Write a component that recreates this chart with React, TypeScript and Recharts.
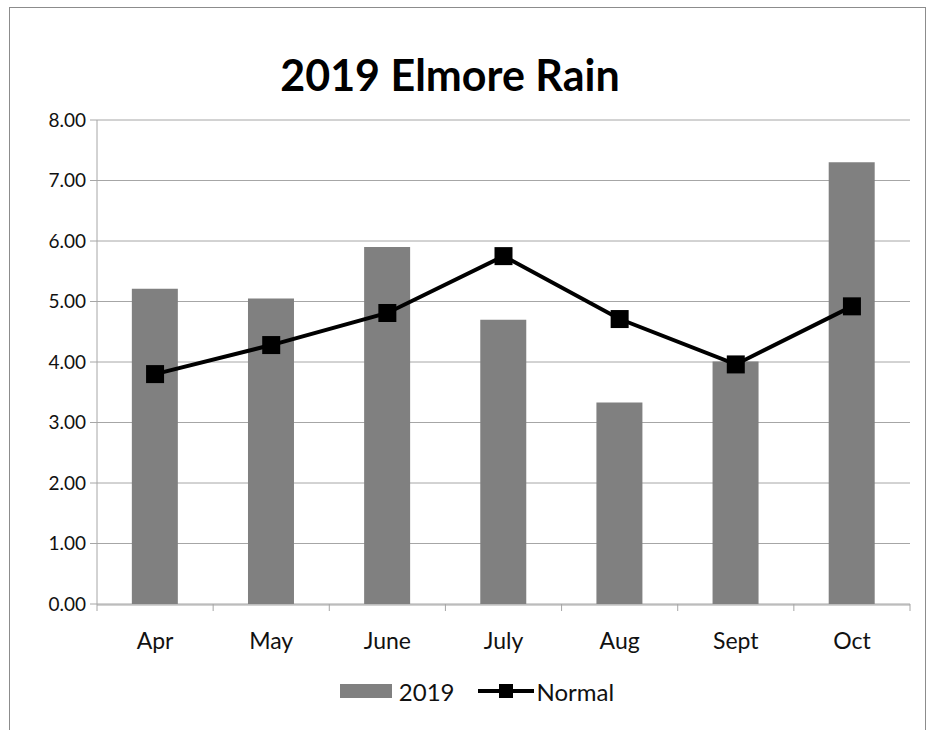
import React from 'react';
import { ComposedChart, Bar, Line, XAxis, YAxis, CartesianGrid, Legend } from 'recharts';

const months = ['Apr', 'May', 'June', 'July', 'Aug', 'Sept', 'Oct'];
const rain2019 = [5.21, 5.05, 5.9, 4.7, 3.33, 4.01, 7.3];
const normal = [3.8, 4.28, 4.81, 5.75, 4.71, 3.96, 4.92];
const yTicks = [0, 1, 2, 3, 4, 5, 6, 7, 8];
const boundaryTicks = [0, 1, 2, 3, 4, 5, 6, 7];
const title = '2019 Elmore Rain';
const seriesNames = ['2019', 'Normal'];

const data = months.map((m, i) => ({ month: m, y2019: rain2019[i], normal: normal[i], pos: i + 0.5 }));

const FONT = 'Lato, "Open Sans", sans-serif';

const SquareDot = (props: any) => {
  const { cx, cy } = props;
  if (cx == null || cy == null) return null;
  return <rect x={cx - 9} y={cy - 9} width={18} height={18} fill="#000" />;
};

const EmptyTick = () => <g />;

const LegendContent = () => (
  <div
    style={{
      display: 'flex',
      justifyContent: 'center',
      alignItems: 'center',
      height: 30,
      fontFamily: FONT,
      fontSize: 24,
      color: '#111',
      paddingLeft: 24,
    }}
  >
    <div style={{ display: 'flex', alignItems: 'center', marginRight: 23 }}>
      <div style={{ width: 52, height: 14, background: '#808080', marginRight: 7 }} />
      <span>{seriesNames[0]}</span>
    </div>
    <div style={{ display: 'flex', alignItems: 'center' }}>
      <svg width={56} height={20} style={{ marginRight: 3 }}>
        <line x1={0} y1={10} x2={56} y2={10} stroke="#000" strokeWidth={4} />
        <rect x={21} y={3} width={14} height={14} fill="#000" />
      </svg>
      <span>{seriesNames[1]}</span>
    </div>
  </div>
);

export default function App() {
  return (
    <div
      style={{
        position: 'absolute',
        left: 0,
        top: 0,
        width: 927,
        height: 730,
        overflow: 'hidden',
        background: '#fff',
      }}
    >
      <div
        style={{
          position: 'absolute',
          left: 9,
          top: 7,
          width: 915,
          height: 760,
          border: '1px solid #8c8c8c',
        }}
      />
      <div
        style={{
          position: 'absolute',
          left: 0,
          width: 900,
          top: 50,
          textAlign: 'center',
          fontFamily: FONT,
          fontWeight: 700,
          fontSize: 43,
          lineHeight: '50px',
          color: '#000',
        }}
      >
        {title}
      </div>
      <div style={{ position: 'absolute', left: 0, top: 0 }}>
        <ComposedChart
          width={927}
          height={730}
          data={data}
          margin={{ top: 120, right: 17, left: 20, bottom: 65 }}
          barCategoryGap="30%"
        >
          <CartesianGrid vertical={false} stroke="#a6a6a6" strokeWidth={1} xAxisId="b_cat" />
          <XAxis
            xAxisId="a_grid"
            dataKey="pos"
            type="number"
            domain={[0, 7]}
            ticks={boundaryTicks}
            height={1}
            axisLine={false}
            tickLine={{ stroke: '#a6a6a6' }}
            tickSize={7}
            tick={EmptyTick}
            interval={0}
            allowDataOverflow
          />
          <XAxis
            xAxisId="b_cat"
            dataKey="month"
            height={30}
            axisLine={{ stroke: '#a6a6a6' }}
            tickLine={false}
            tickSize={0}
            tickMargin={28}
            tick={{ fill: '#111', fontSize: 23, fontFamily: FONT }}
          />
          <YAxis
            width={77}
            domain={[0, 8]}
            ticks={yTicks}
            tickFormatter={(v: number) => v.toFixed(2)}
            axisLine={{ stroke: '#a6a6a6' }}
            tickLine={{ stroke: '#a6a6a6' }}
            tickSize={7}
            tickMargin={4}
            tick={{ fill: '#111', fontSize: 19, fontFamily: FONT }}
          />
          <Bar xAxisId="b_cat" dataKey="y2019" name={seriesNames[0]} fill="#808080" isAnimationActive={false} />
          <Line
            xAxisId="b_cat"
            dataKey="normal"
            name={seriesNames[1]}
            stroke="#000"
            strokeWidth={4}
            dot={<SquareDot />}
            activeDot={false}
            isAnimationActive={false}
          />
          <Legend content={<LegendContent />} wrapperStyle={{ bottom: 24 }} />
        </ComposedChart>
      </div>
    </div>
  );
}
